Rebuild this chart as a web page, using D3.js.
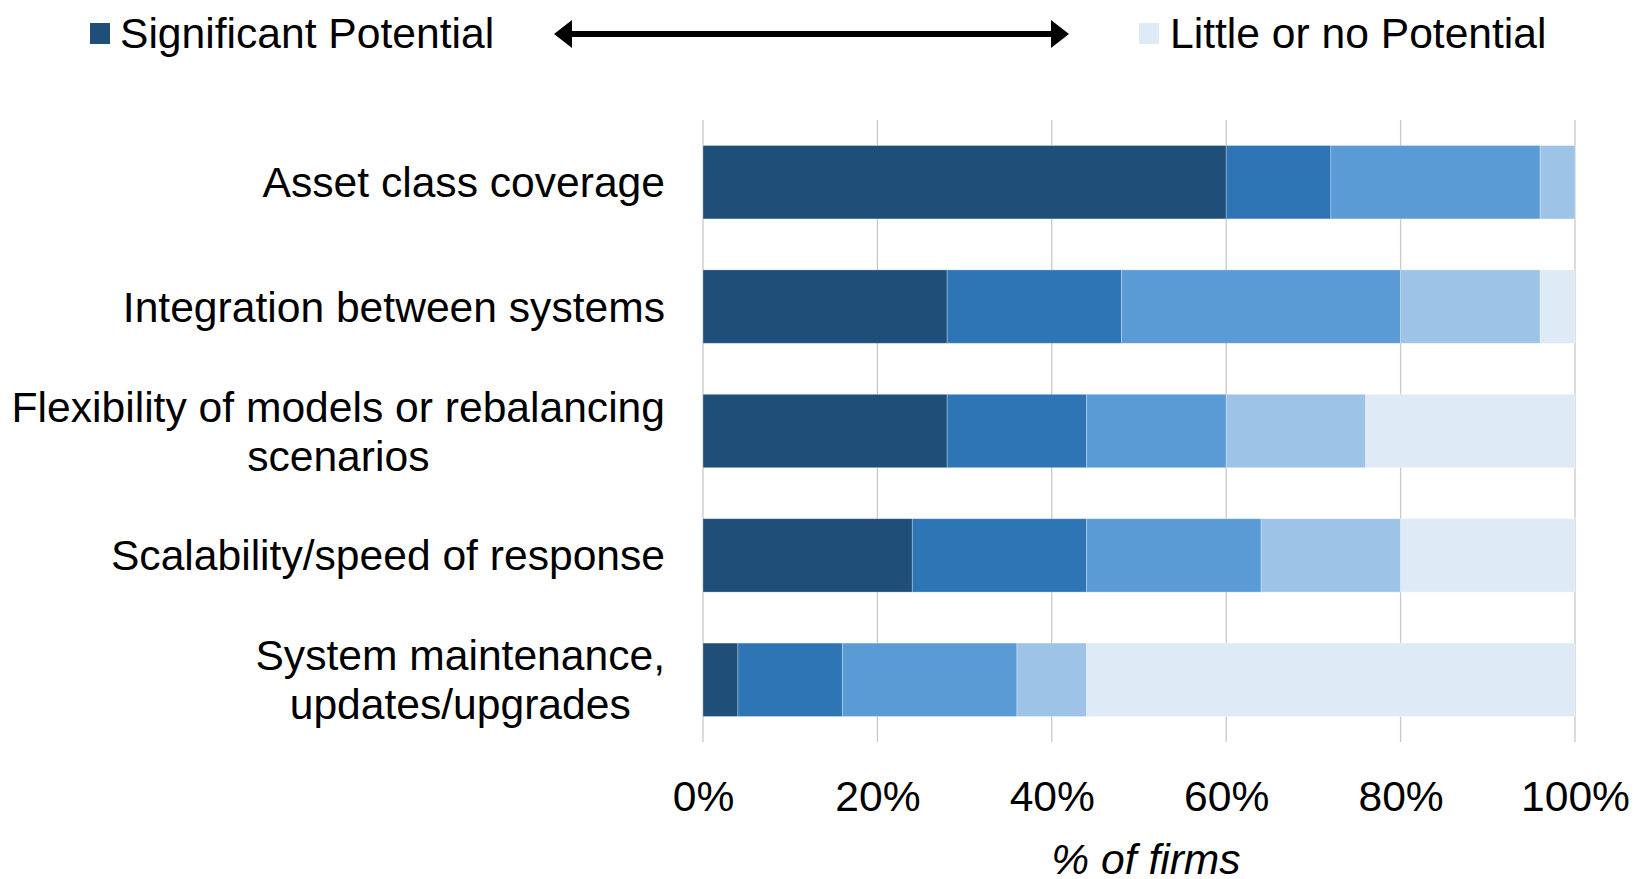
<!DOCTYPE html>
<html>
<head>
<meta charset="utf-8">
<script src="https://cdn.jsdelivr.net/npm/d3@7"></script>
<style>
  html, body { margin: 0; padding: 0; background: #fff; }
  svg { display: block; font-family: "Liberation Sans", Arial, sans-serif; }
</style>
</head>
<body>
<svg id="chart" width="1634" height="879"></svg>
<script>
// Survey categories (multi-line labels split with "\n")
const categories = [
  "Asset class coverage",
  "Integration between systems",
  "Flexibility of models or rebalancing\nscenarios",
  "Scalability/speed of response",
  "System maintenance,\nupdates/upgrades"
];

// Share of firms per rating level, from significant (1) to little or none (5)
const level1 = [60, 28, 28, 24, 4];
const level2 = [12, 20, 16, 20, 12];
const level3 = [24, 32, 16, 20, 20];
const level4 = [4, 16, 16, 16, 8];
const level5 = [0, 4, 24, 20, 56];

const levelKeys = ["l1", "l2", "l3", "l4", "l5"];
const levelColors = ["#1F4E79", "#2E75B6", "#5B9BD5", "#9DC3E6", "#DEEAF6"];

const tickValues = [0, 20, 40, 60, 80, 100];
const axisTitle = "% of firms";
const legendLeft = "Significant Potential";
const legendRight = "Little or no Potential";

const rows = categories.map((c, i) => ({
  category: c,
  l1: level1[i], l2: level2[i], l3: level3[i], l4: level4[i], l5: level5[i]
}));

const svg = d3.select("#chart");
const fontSize = 42.6;

const x = d3.scaleLinear().domain([0, 100]).range([703, 1575]);
const y = d3.scaleBand()
  .domain(categories)
  .range([120, 742])
  .paddingInner(0.41)
  .paddingOuter(0.205);

const color = d3.scaleOrdinal().domain(levelKeys).range(levelColors);

// Vertical gridlines
svg.append("g")
  .selectAll("line")
  .data(tickValues)
  .join("line")
  .attr("x1", d => x(d)).attr("x2", d => x(d))
  .attr("y1", 120).attr("y2", 742)
  .attr("stroke", "#c9c9c9")
  .attr("stroke-width", 1.3);

// Stacked bars
const series = d3.stack().keys(levelKeys)(rows);
svg.append("g")
  .selectAll("g")
  .data(series)
  .join("g")
  .attr("fill", d => color(d.key))
  .selectAll("rect")
  .data(d => d)
  .join("rect")
  .attr("x", d => x(d[0]))
  .attr("y", d => y(d.data.category))
  .attr("width", d => x(d[1]) - x(d[0]))
  .attr("height", y.bandwidth())
  .attr("stroke", "#ffffff")
  .attr("stroke-opacity", 0.35)
  .attr("stroke-width", 0.8);

// X axis tick labels
const xAxis = d3.axisBottom(x)
  .tickValues(tickValues)
  .tickFormat(d => d + "%")
  .tickSize(0)
  .tickPadding(0);
const gx = svg.append("g")
  .attr("transform", "translate(0,780)")
  .call(xAxis);
gx.select(".domain").remove();
gx.selectAll("text")
  .attr("font-size", fontSize)
  .attr("font-family", "'Liberation Sans', Arial, sans-serif")
  .attr("fill", "#000")
  .attr("dy", null)
  .attr("y", 31);

// Axis title
svg.append("text")
  .attr("x", 1146)
  .attr("y", 874)
  .attr("text-anchor", "middle")
  .attr("font-size", fontSize)
  .attr("font-style", "italic")
  .attr("fill", "#000")
  .text(axisTitle);

// Category labels, right aligned as a block, lines centred within it
const labelRight = 665;
const lineGap = 49;
const probe = svg.append("text").attr("font-size", fontSize).attr("visibility", "hidden");
categories.forEach(c => {
  const lines = c.split("\n");
  const widths = lines.map(l => { probe.text(l); return probe.node().getComputedTextLength(); });
  const blockW = d3.max(widths);
  const cx = labelRight - blockW / 2;
  const cy = y(c) + y.bandwidth() / 2;
  const t = svg.append("text")
    .attr("font-size", fontSize)
    .attr("fill", "#000")
    .attr("text-anchor", "middle");
  lines.forEach((l, i) => {
    t.append("tspan")
      .attr("x", cx)
      .attr("y", cy + (i - (lines.length - 1) / 2) * lineGap + 15)
      .text(l);
  });
});
probe.remove();

// Legend
const legend = svg.append("g");
legend.append("rect")
  .attr("x", 90).attr("y", 23).attr("width", 20).attr("height", 21)
  .attr("fill", levelColors[0]);
legend.append("text")
  .attr("x", 120).attr("y", 48)
  .attr("font-size", fontSize).attr("fill", "#000")
  .text(legendLeft);
legend.append("rect")
  .attr("x", 1139).attr("y", 23).attr("width", 20).attr("height", 21)
  .attr("fill", levelColors[4]);
legend.append("text")
  .attr("x", 1170).attr("y", 48)
  .attr("font-size", fontSize).attr("fill", "#000")
  .text(legendRight);

// Double-headed arrow between the legend ends
const ay = 34, ax1 = 554, ax2 = 1069, headLen = 18, headHalf = 14;
legend.append("line")
  .attr("x1", ax1 + headLen - 2).attr("x2", ax2 - headLen + 2)
  .attr("y1", ay).attr("y2", ay)
  .attr("stroke", "#000").attr("stroke-width", 6);
legend.append("path")
  .attr("d", `M${ax1},${ay} L${ax1 + headLen},${ay - headHalf} L${ax1 + headLen},${ay + headHalf} Z`)
  .attr("fill", "#000");
legend.append("path")
  .attr("d", `M${ax2},${ay} L${ax2 - headLen},${ay - headHalf} L${ax2 - headLen},${ay + headHalf} Z`)
  .attr("fill", "#000");
</script>
</body>
</html>
